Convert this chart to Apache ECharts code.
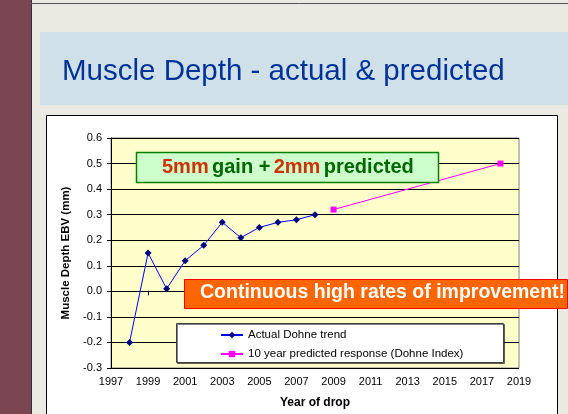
<!DOCTYPE html>
<html>
<head>
<meta charset="utf-8">
<script src="https://cdn.jsdelivr.net/npm/echarts@6/dist/echarts.min.js"></script>
<style>
  html, body { margin: 0; padding: 0; background: #eaeae2; }
  #chart { width: 568px; height: 414px; }
</style>
</head>
<body>
<div id="chart"></div>
<script>
// years + values
const actualYears = [1998, 1999, 2000, 2001, 2002, 2003, 2004, 2005, 2006, 2007, 2008];
const actualValues = [-0.2, 0.15, 0.01, 0.12, 0.18, 0.27, 0.21, 0.25, 0.27, 0.28, 0.30];
const predictedYears = [2009, 2018];
const predictedValues = [0.32, 0.50];

const font = '"Liberation Sans", Arial, sans-serif';
const chart = echarts.init(document.getElementById('chart'));

const option = {
  backgroundColor: '#eaeae2',
  animation: false,
  textStyle: { fontFamily: font },
  grid: {
    left: 111, top: 138, width: 408, height: 232,
    show: true,
    backgroundColor: '#ffffcc',
    borderColor: '#808080',
    borderWidth: 1
  },
  xAxis: {
    type: 'value',
    min: 1997, max: 2019, interval: 2,
    name: 'Year of drop',
    nameLocation: 'middle',
    nameGap: 29,
    nameTextStyle: { fontWeight: 'bold', fontSize: 12, color: '#000' },
    axisLine: { lineStyle: { color: '#000' } },
    axisTick: { lineStyle: { color: '#000' }, length: 4 },
    axisLabel: { color: '#000', fontSize: 11, margin: 8, formatter: v => String(v) },
    splitLine: { show: false }
  },
  yAxis: {
    type: 'value',
    min: -0.3, max: 0.6, interval: 0.1,
    name: 'Muscle Depth EBV (mm)',
    nameLocation: 'middle',
    nameGap: 38,
    nameTextStyle: { fontWeight: 'bold', fontSize: 11.5, color: '#000' },
    axisLine: { show: true, lineStyle: { color: '#000' } },
    axisTick: { show: true, lineStyle: { color: '#000' }, length: 4 },
    axisLabel: { color: '#000', fontSize: 11, margin: 9, formatter: v => v.toFixed(1) },
    splitLine: { lineStyle: { color: '#000', width: 1 } }
  },
  legend: {
    orient: 'vertical',
    left: 215, top: 324,
    itemWidth: 22, itemHeight: 8, itemGap: 7,
    textStyle: { fontSize: 11.5, color: '#000' },
    data: ['Actual Dohne trend', '10 year predicted response (Dohne Index)']
  },
  series: [
    {
      name: 'Actual Dohne trend',
      type: 'line',
      data: actualYears.map((y, i) => [y, actualValues[i]]),
      symbol: 'diamond', symbolSize: 7,
      lineStyle: { color: '#0000ff', width: 1 },
      itemStyle: { color: '#000080' }
    },
    {
      name: '10 year predicted response (Dohne Index)',
      type: 'line',
      data: predictedYears.map((y, i) => [y, predictedValues[i]]),
      symbol: 'rect', symbolSize: 6,
      lineStyle: { color: '#ff00ff', width: 1 },
      itemStyle: { color: '#ff00ff' }
    }
  ],
  graphic: [
    // slide decoration
    { type: 'rect', z: -10, shape: { x: 0, y: 0, width: 31, height: 414 }, style: { fill: '#7b4652' } },
    { type: 'line', z: -10, shape: { x1: 31.5, y1: 0, x2: 31.5, y2: 414 }, style: { stroke: '#333', lineWidth: 1 } },
    { type: 'line', z: -10, shape: { x1: 31, y1: 3.5, x2: 568, y2: 3.5 }, style: { stroke: '#555', lineWidth: 1 } },
    { type: 'rect', z: -10, shape: { x: 40, y: 32, width: 528, height: 73 }, style: { fill: '#d0e0e8' } },
    {
      type: 'text', z: -9, left: 62, top: 57,
      style: { text: 'Muscle Depth - actual & predicted', fill: '#003399', font: '29.5px ' + font }
    },
    // chart box
    { type: 'rect', z: -10, shape: { x: 46.5, y: 115.5, width: 511, height: 310 }, style: { fill: '#fff', stroke: '#000', lineWidth: 1 } },
    // legend frame
    {
      type: 'rect', z: 1, shape: { x: 176.5, y: 323.5, width: 327, height: 39 },
      style: { fill: '#fff', stroke: '#404040', lineWidth: 1, shadowColor: 'rgba(0,0,0,0.5)', shadowOffsetX: 1, shadowOffsetY: 1 }
    },
    // green callout
    {
      type: 'rect', z: 5, shape: { x: 136.5, y: 152.5, width: 302, height: 30 },
      style: { fill: '#ccffcc', stroke: '#008000', lineWidth: 1.5 }
    },
    {
      type: 'text', z: 6, left: 162, top: 157,
      style: {
        text: '{r|5mm} {g|gain +} {r|2mm} {g|predicted}',
        rich: {
          r: { fill: '#cc3300', font: 'bold 20px ' + font },
          g: { fill: '#006600', font: 'bold 20px ' + font }
        }
      }
    },
    // orange callout
    {
      type: 'rect', z: 5, shape: { x: 184.5, y: 279.5, width: 383, height: 29 },
      style: { fill: '#ff6600', stroke: '#ff0000', lineWidth: 1 }
    },
    {
      type: 'text', z: 6, left: 200, top: 283,
      style: { text: 'Continuous high rates of improvement!', fill: '#fff', font: 'bold 19.5px ' + font }
    }
  ]
};

chart.setOption(option);
</script>
</body>
</html>
